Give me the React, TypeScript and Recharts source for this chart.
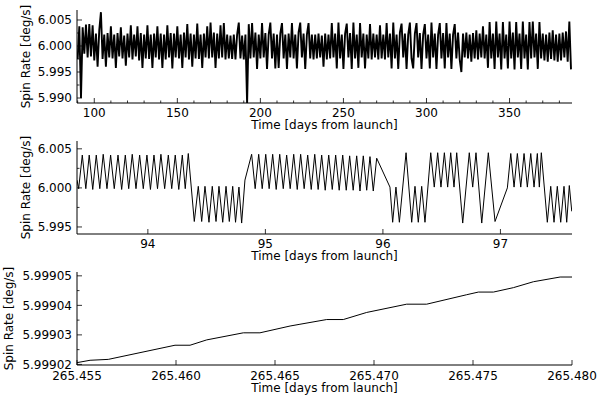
import React from 'react';
import { LineChart, Line, XAxis, YAxis } from 'recharts';

const FONT = "'DejaVu Sans', sans-serif";

// Panel 1: whole mission, one sample per day.
// Spin is stored as offset from 6 deg/s in units of 1e-4 deg/s.
const topDays = [
  90, 91, 92, 93, 94, 95, 96, 97, 98, 99,
  100, 101, 102, 103, 104, 105, 106, 107, 108, 109,
  110, 111, 112, 113, 114, 115, 116, 117, 118, 119,
  120, 121, 122, 123, 124, 125, 126, 127, 128, 129,
  130, 131, 132, 133, 134, 135, 136, 137, 138, 139,
  140, 141, 142, 143, 144, 145, 146, 147, 148, 149,
  150, 151, 152, 153, 154, 155, 156, 157, 158, 159,
  160, 161, 162, 163, 164, 165, 166, 167, 168, 169,
  170, 171, 172, 173, 174, 175, 176, 177, 178, 179,
  180, 181, 182, 183, 184, 185, 186, 187, 188, 189,
  190, 191, 192, 193, 194, 195, 196, 197, 198, 199,
  200, 201, 202, 203, 204, 205, 206, 207, 208, 209,
  210, 211, 212, 213, 214, 215, 216, 217, 218, 219,
  220, 221, 222, 223, 224, 225, 226, 227, 228, 229,
  230, 231, 232, 233, 234, 235, 236, 237, 238, 239,
  240, 241, 242, 243, 244, 245, 246, 247, 248, 249,
  250, 251, 252, 253, 254, 255, 256, 257, 258, 259,
  260, 261, 262, 263, 264, 265, 266, 267, 268, 269,
  270, 271, 272, 273, 274, 275, 276, 277, 278, 279,
  280, 281, 282, 283, 284, 285, 286, 287, 288, 289,
  290, 291, 292, 293, 294, 295, 296, 297, 298, 299,
  300, 301, 302, 303, 304, 305, 306, 307, 308, 309,
  310, 311, 312, 313, 314, 315, 316, 317, 318, 319,
  320, 321, 322, 323, 324, 325, 326, 327, 328, 329,
  330, 331, 332, 333, 334, 335, 336, 337, 338, 339,
  340, 341, 342, 343, 344, 345, 346, 347, 348, 349,
  350, 351, 352, 353, 354, 355, 356, 357, 358, 359,
  360, 361, 362, 363, 364, 365, 366, 367, 368, 369,
  370, 371, 372, 373, 374, 375, 376, 377, 378, 379,
  380, 381, 382, 383, 384, 385, 386, 387,
];
const topSpinOffset = [
  -25, 38, -100, 36, -15, 41, -22, 42, -20, 40,
  -28, 24, -40, 30, 65, -25, 22, -40, 25, -22,
  38, -24, 22, -42, 25, -20, 36, -24, 20, -38,
  24, -22, 40, -26, 22, -20, 38, -28, 25, -42,
  22, -24, 40, -25, 22, -42, 24, -22, 38, -26,
  24, -42, 22, -26, 40, -22, 25, -43, 24, -22,
  38, -24, 22, -42, 26, -22, 42, -26, 24, -40,
  22, -24, 43, -25, 22, -42, 24, -22, 38, -24,
  45, -22, 26, -42, 24, -24, 40, -22, 44, -26,
  22, -24, 20, -25, 22, -26, 22, 45, -24, 20,
  -26, 22, -110, 42, -24, 44, -22, 26, -44, 22,
  -24, 44, -22, 25, -44, 22, 45, -24, 24, -43,
  22, -42, 24, 44, -24, 22, -44, 24, -22, 44,
  -24, 22, -43, 26, 45, -22, 24, -44, 22, 44,
  -24, 22, -26, 22, -24, 24, -22, 20, -40, 24,
  -26, 22, -24, 44, -22, 24, -43, 45, -24, 22,
  -44, 24, 43, -22, 25, -44, 45, -24, 22, -42,
  44, -22, 24, -43, 22, -24, 42, -26, 24, -22,
  22, -26, 40, -24, 22, -26, 44, -22, 24, -43,
  45, -24, 22, -44, 26, 43, -22, 24, -44, 22,
  45, -24, -43, 24, 44, -22, 25, -44, 22, 42,
  -24, 22, -43, 45, -22, 24, -44, 22, 44, -24,
  25, -43, 44, -22, 24, -44, 22, 42, -24, 26,
  -26, -50, 24, -22, 26, -24, 22, -30, 25, -24,
  30, -26, 24, -22, 38, -24, 22, -42, 46, -24,
  24, -44, 47, -22, 24, -45, 46, -24, 22, -43,
  47, -24, 26, -45, 46, -22, 24, -44, 47, -24,
  22, -45, 46, -24, 47, -22, 24, -44, 46, -24,
  24, -28, 22, -30, 26, -25, 30, -28, 22, -30,
  24, -28, 26, -22, 28, -30, 47, -45,
];
const topXMajor = [100, 150, 200, 250, 300, 350];
const topXMinor = [90, 110, 120, 130, 140, 160, 170, 180, 190, 210, 220, 230, 240, 260, 270, 280, 290, 310, 320, 330, 340, 360, 370, 380];
const topYMajor = [5.99, 5.995, 6.0, 6.005];
const topYMinor = [5.9925, 5.9975, 6.0025];

// Panel 2: four days zoomed in
const midDays = [
  93.397, 93.411, 93.442, 93.472, 93.501, 93.531, 93.561, 93.591, 93.62, 93.652, 93.683,
  93.714, 93.746, 93.777, 93.808, 93.837, 93.867, 93.899, 93.93, 93.961, 93.992, 94.022,
  94.052, 94.082, 94.111, 94.143, 94.174, 94.203, 94.233, 94.263, 94.293, 94.318, 94.344,
  94.395, 94.429, 94.458, 94.486, 94.52, 94.548, 94.58, 94.605, 94.637, 94.665, 94.693,
  94.722, 94.746, 94.775, 94.798, 94.826,
  94.883, 94.913, 94.943, 94.973, 95.003, 95.032, 95.062, 95.092, 95.122, 95.152, 95.181,
  95.211, 95.241, 95.271, 95.3, 95.33, 95.36, 95.39, 95.42, 95.449, 95.479, 95.509,
  95.539, 95.569, 95.598, 95.628, 95.658, 95.688, 95.717, 95.747, 95.777, 95.805, 95.833,
  95.862, 95.89, 95.918, 95.947,
  96.06, 96.083, 96.111, 96.14, 96.197, 96.245, 96.273, 96.301, 96.33, 96.358, 96.407,
  96.437, 96.466, 96.494, 96.523, 96.551, 96.577, 96.605, 96.628, 96.679, 96.735, 96.764,
  96.792, 96.841, 96.897, 96.954, 97.059, 97.088, 97.116, 97.144, 97.173, 97.201, 97.229,
  97.258, 97.286, 97.314, 97.331, 97.348, 97.399, 97.428, 97.456, 97.484, 97.513, 97.541,
  97.564, 97.586, 97.607,
];
const midSpin = [
  6.001, 5.9999, 6.0042, 5.9999, 6.0042, 5.9998, 6.0042, 5.9999, 6.0043, 5.9999, 6.0042,
  5.9999, 6.0042, 5.9998, 6.0042, 5.9999, 6.0043, 5.9999, 6.0042, 5.9999, 6.0042, 5.9998,
  6.0042, 5.9999, 6.0043, 5.9999, 6.0042, 5.9999, 6.0042, 5.9998, 6.0042, 5.9999, 6.0044,
  5.9957, 6.0002, 5.9957, 6.0002, 5.9956, 6.0002, 5.9957, 6.0002, 5.9956, 6.0002, 5.9957,
  6.0002, 5.9956, 6.0001, 5.9955, 6.001,
  6.0043, 5.9999, 6.0043, 5.9999, 6.0043, 5.9999, 6.0043, 5.9998, 6.0043, 5.9999, 6.0042,
  5.9999, 6.0043, 5.9998, 6.0043, 5.9999, 6.0042, 5.9998, 6.0043, 5.9998, 6.0042, 5.9997,
  6.0042, 5.9998, 6.0042, 5.9997, 6.0042, 5.9997, 6.0041, 5.9997, 6.0041, 5.9996, 6.0041,
  5.9997, 6.004, 5.9996, 6.0038,
  6.0001, 5.9956, 6.0001, 5.9956, 6.0045, 5.9956, 6.0002, 5.9956, 6.0002, 5.9956, 6.0045,
  6.0001, 6.0045, 6.0001, 6.0045, 6.0001, 6.0045, 6.0001, 6.0045, 5.9955, 6.0045, 6.0001,
  6.0045, 5.9955, 6.0045, 5.9957, 6.0, 6.0044, 6.0001, 6.0044, 6.0001, 6.0044, 6.0001,
  6.0044, 6.0001, 6.0044, 6.0001, 6.0045, 5.9956, 6.0002, 5.9956, 6.0002, 5.9956, 6.0002,
  5.9956, 6.0003, 5.997,
];
const midXMajor = [94, 95, 96, 97];
const midYMajor = [5.995, 6.0, 6.005];
const midYMinor = [5.9975, 6.0025];

// Panel 3: about half an hour
const botDays = [
  265.455, 265.45566, 265.45658, 265.45995, 265.46071, 265.46155, 265.4634, 265.46424,
  265.46576, 265.46626, 265.46761, 265.46845, 265.46963, 265.47165, 265.47266, 265.47468,
  265.47527, 265.47603, 265.47704, 265.47805, 265.4794, 265.48,
];
const botSpin = [
  5.9990206, 5.9990214, 5.9990217, 5.9990265, 5.9990265, 5.9990283, 5.9990307, 5.9990307,
  5.999033, 5.9990336, 5.9990352, 5.9990352, 5.9990376, 5.9990404, 5.9990404, 5.9990436,
  5.9990445, 5.9990445, 5.999046, 5.999048, 5.9990496, 5.9990496,
];
const botXMajor = [265.455, 265.46, 265.465, 265.47, 265.475, 265.48];
const botYMajor = [5.99902, 5.99903, 5.99904, 5.99905];
const botYMinor = [5.999025, 5.999035, 5.999045];

const topData = topDays.map((day, i) => ({ day, spin: 6 + topSpinOffset[i] / 10000 }));
const midData = midDays.map((day, i) => ({ day, spin: midSpin[i] }));
const botData = botDays.map((day, i) => ({ day, spin: botSpin[i] }));

const isIn = (list: number[], v: number) => list.some((m) => Math.abs(m - v) < 1e-9);
const frame = { stroke: '#000', strokeWidth: 1 };
const txt = { fontSize: 12, fontFamily: FONT, fill: '#000' };

type Side = 'bottom' | 'top' | 'left' | 'right';

const makeTick = (side: Side, majors: number[], fmt: (v: number) => string, gap: number) =>
  (p: any) => {
    const { x, y, payload } = p;
    const v = payload.value;
    const major = isIn(majors, v);
    const len = major ? 5 : 2.5;
    const ln = { stroke: '#000', strokeWidth: 0.8 };
    if (side === 'bottom') {
      return (
        <g>
          <line x1={x} x2={x} y1={y} y2={y - len} {...ln} />
          {major && <text x={x} y={y + gap} textAnchor="middle" {...txt}>{fmt(v)}</text>}
        </g>
      );
    }
    if (side === 'top') return <line x1={x} x2={x} y1={y} y2={y + len} {...ln} />;
    if (side === 'right') return <line x1={x} x2={x - len} y1={y} y2={y} {...ln} />;
    return (
      <g>
        <line x1={x} x2={x + len} y1={y} y2={y} {...ln} />
        {major && <text x={x - 5} y={y + 4.3} textAnchor="end" {...txt}>{fmt(v)}</text>}
      </g>
    );
  };

interface PanelProps {
  top: number;
  height: number;
  marginTop: number;
  xAxisHeight: number;
  data: { day: number; spin: number }[];
  xDomain: [number, number];
  yDomain: [number, number];
  xMajor: number[];
  xMinor: number[];
  yMajor: number[];
  yMinor: number[];
  xFmt: (v: number) => string;
  yFmt: (v: number) => string;
  tickGap: number;
  xLabelOffset: number;
  yLabelX: number;
  lineWidth: number;
}

const Panel = (p: PanelProps) => {
  const xTicks = [...p.xMajor, ...p.xMinor];
  const yTicks = [...p.yMajor, ...p.yMinor];
  return (
    <div style={{ position: 'absolute', left: 0, top: p.top }}>
      <LineChart width={600} height={p.height} data={p.data}
        margin={{ top: p.marginTop, right: 28, bottom: 0, left: 0 }}>
        <XAxis dataKey="day" type="number" domain={p.xDomain} allowDataOverflow height={p.xAxisHeight}
          ticks={xTicks} interval={0} tickLine={false} tickSize={0} tickMargin={0} axisLine={frame}
          tick={makeTick('bottom', p.xMajor, p.xFmt, p.tickGap)}
          label={{ value: 'Time [days from launch]', position: 'insideBottom', offset: p.xLabelOffset, ...txt }} />
        <XAxis xAxisId="top" orientation="top" type="number" domain={p.xDomain} allowDataOverflow height={0}
          ticks={xTicks} interval={0} tickLine={false} tickSize={0} tickMargin={0} axisLine={frame}
          tick={makeTick('top', p.xMajor, p.xFmt, 0)} />
        <YAxis type="number" domain={p.yDomain} allowDataOverflow width={77}
          ticks={yTicks} interval={0} tickLine={false} tickSize={0} tickMargin={0} axisLine={frame}
          tick={makeTick('left', p.yMajor, p.yFmt, 0)}
          label={{ value: 'Spin Rate [deg/s]', angle: -90, position: 'insideLeft', offset: p.yLabelX,
            style: { textAnchor: 'middle' }, ...txt }} />
        <YAxis yAxisId="right" orientation="right" type="number" domain={p.yDomain} allowDataOverflow width={0}
          ticks={yTicks} interval={0} tickLine={false} tickSize={0} tickMargin={0} axisLine={frame}
          tick={makeTick('right', p.yMajor, p.yFmt, 0)} />
        <Line type="linear" dataKey="spin" stroke="#000" strokeWidth={p.lineWidth} dot={false}
          isAnimationActive={false} />
      </LineChart>
    </div>
  );
};

export default function App() {
  return (
    <div style={{ position: 'absolute', left: 0, top: 0, width: 600, height: 396, background: '#fff' }}>
      <Panel top={0} height={134} marginTop={10} xAxisHeight={31} data={topData}
        xDomain={[89.6, 387.6]} yDomain={[5.98904, 6.00692]}
        xMajor={topXMajor} xMinor={topXMinor} yMajor={topYMajor} yMinor={topYMinor}
        xFmt={(v) => String(v)} yFmt={(v) => v.toFixed(3)}
        tickGap={14} xLabelOffset={5} yLabelX={25.5} lineWidth={1.9} />
      <Panel top={130} height={134} marginTop={11} xAxisHeight={30} data={midData}
        xDomain={[93.397, 97.609]} yDomain={[5.9941, 6.006]}
        xMajor={midXMajor} xMinor={[]} yMajor={midYMajor} yMinor={midYMinor}
        xFmt={(v) => String(v)} yFmt={(v) => v.toFixed(3)}
        tickGap={14} xLabelOffset={4} yLabelX={25.5} lineWidth={1} />
      <Panel top={262} height={134} marginTop={10} xAxisHeight={31} data={botData}
        xDomain={[265.455, 265.48]} yDomain={[5.9990198, 5.9990513]}
        xMajor={botXMajor} xMinor={[]} yMajor={botYMajor} yMinor={botYMinor}
        xFmt={(v) => v.toFixed(3)} yFmt={(v) => v.toFixed(5)}
        tickGap={15} xLabelOffset={4.5} yLabelX={8.5} lineWidth={1} />
    </div>
  );
}
